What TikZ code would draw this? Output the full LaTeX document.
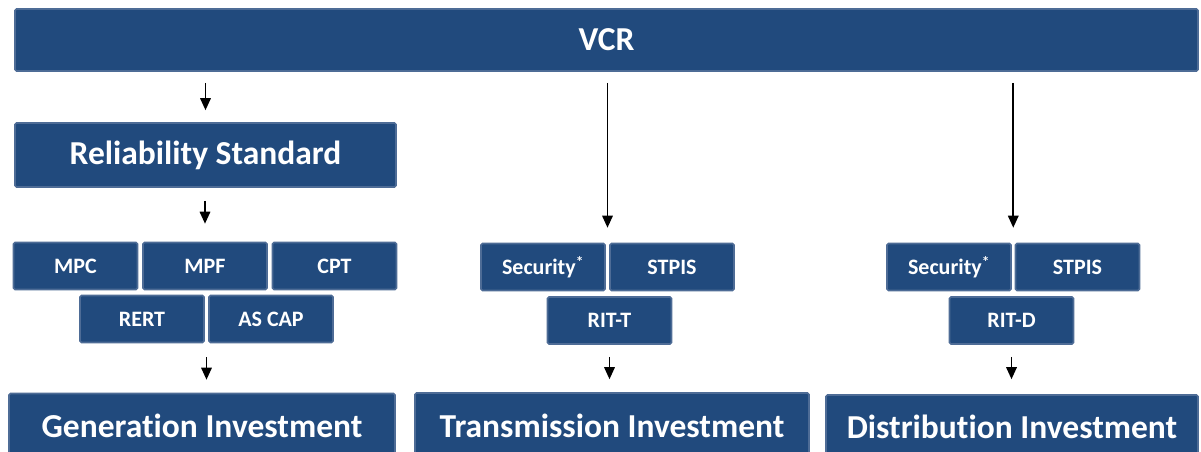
\documentclass[tikz,border=0pt]{standalone}
\usepackage{fontspec}
\setmainfont{Carlito}[Ligatures=NoCommon]
\usetikzlibrary{arrows.meta,calc}
\definecolor{boxc}{RGB}{33,74,125}
\definecolor{edgec}{RGB}{78,108,150}
\tikzset{
  box/.style={draw=edgec, line width=1.6pt, fill=boxc, rounded corners=1.5pt, text=white,
    inner sep=0pt, anchor=center},
  big/.style={box, font=\fontsize{33.5}{38}\selectfont\bfseries},
  small/.style={box, font=\fontsize{22}{26}\selectfont\bfseries, minimum width=124pt, minimum height=47pt},
  arr/.style={line width=1.7pt, -{Triangle[width=10.5pt,length=12pt]}}
}
\begin{document}
\begin{tikzpicture}[x=1pt,y=-1pt]
\clip (0,0) rectangle (1201,452);
\fill[white] (0,0) rectangle (1201,452);
% top
\node[big, minimum width=1183pt, minimum height=62pt] (vcr) at (606.5,40) {VCR};
% left column
\node[big, minimum width=381pt, minimum height=64pt] (rel) at (205.5,155) {Reliability Standard};
\node[small] (mpc) at (75.5,266) {MPC};
\node[small] (mpf) at (205,266) {MPF};
\node[small] (cpt) at (334.5,266) {CPT};
\node[small] (rert) at (142,319) {RERT};
\node[small] (ascap) at (271,319) {AS CAP};
\node[big, minimum width=386pt, minimum height=65pt] (gen) at (202,426) {Generation Investment};
% middle column
\node[small] (sect) at (543,267) {Security\textsuperscript{*}};
\node[small] (stpist) at (672,267) {STPIS};
\node[small] (ritt) at (609.5,320.5) {RIT-T};
\node[big, minimum width=394pt, minimum height=65pt] (trans) at (612,425.5) {Transmission Investment};
% right column
\node[small] (secd) at (949,267) {Security\textsuperscript{*}};
\node[small] (stpisd) at (1077.5,267) {STPIS};
\node[small] (ritd) at (1011.5,320.5) {RIT-D};
\node[big, minimum width=372pt, minimum height=63pt] (dist) at (1012,426.5) {Distribution Investment};
% connector anchors
\coordinate (tmidT) at ($(sect.north)!0.5!(stpist.north)$);
\coordinate (tmidD) at ($(secd.north)!0.5!(stpisd.north)$);
\coordinate (bmidG) at ($(rert.south)!0.5!(ascap.south)$);
% arrows
\draw[arr, shorten <=11pt, shorten >=12pt] (vcr.south -| rel.north) -- (rel.north);
\draw[arr, shorten <=13pt, shorten >=18pt] (rel.south -| mpf.north) -- (mpf.north);
\draw[arr, shorten <=14pt, shorten >=13pt] (bmidG) -- (bmidG |- gen.north);
\draw[arr, shorten <=11pt, shorten >=15pt] (vcr.south -| tmidT) -- (tmidT);
\draw[arr, shorten <=11pt, shorten >=15pt] (vcr.south -| tmidD) -- (tmidD);
\draw[arr, shorten <=12pt, shorten >=13pt] (ritt.south) -- (ritt.south |- trans.north);
\draw[arr, shorten <=12pt, shorten >=15pt] (ritd.south) -- (ritd.south |- dist.north);
\end{tikzpicture}
\end{document}
